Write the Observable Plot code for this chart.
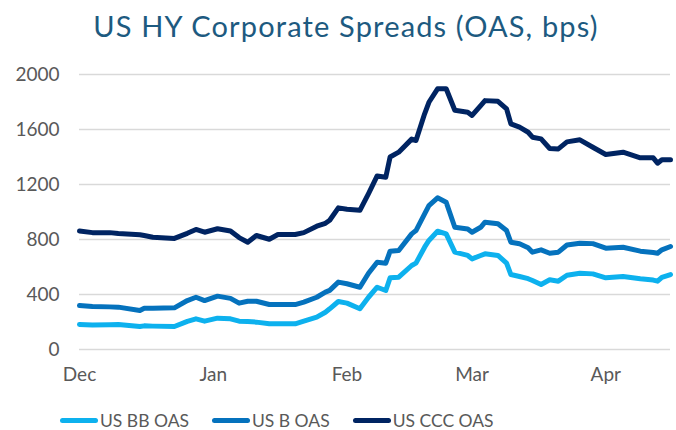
<!DOCTYPE html>
<html><head><meta charset="utf-8">
<script src="https://cdn.jsdelivr.net/npm/d3@7"></script>
<script src="https://cdn.jsdelivr.net/npm/@observablehq/plot@0.6"></script>
<style>
body{margin:0;background:#fff;font-family:Lato,"Open Sans",sans-serif;}
#wrap{position:relative;width:676px;height:430px;overflow:hidden;}
#title{position:absolute;top:8px;left:8px;width:676px;text-align:center;font-size:29px;color:#1d5a80;letter-spacing:1.15px;}
#chart{position:absolute;top:55px;left:0;}
#legend{position:absolute;top:410px;left:60px;display:flex;align-items:center;font-size:17.5px;color:#595959;}
.item{display:flex;align-items:center;margin-right:23px;}
.sw{width:38px;height:5px;border-radius:3px;margin-right:2px;}
</style></head>
<body>
<div id="wrap">
<div id="title">US HY Corporate Spreads (OAS, bps)</div>
<div id="chart"></div>
<div id="legend"></div>
</div>
<script>
const dates = ["2019-12-01","2019-12-04","2019-12-08","2019-12-10","2019-12-15","2019-12-16","2019-12-18","2019-12-23","2019-12-26","2019-12-28","2019-12-30",
"2020-01-02","2020-01-05","2020-01-07","2020-01-09","2020-01-11","2020-01-14","2020-01-16","2020-01-20","2020-01-22","2020-01-25","2020-01-27","2020-01-28","2020-01-30",
"2020-02-01","2020-02-04","2020-02-06","2020-02-08","2020-02-10","2020-02-11","2020-02-13","2020-02-16","2020-02-17","2020-02-19","2020-02-20","2020-02-22","2020-02-24","2020-02-26","2020-02-29",
"2020-03-01","2020-03-03","2020-03-04","2020-03-07","2020-03-09","2020-03-10","2020-03-12","2020-03-14","2020-03-15","2020-03-17","2020-03-19","2020-03-21","2020-03-23","2020-03-26","2020-03-29",
"2020-04-01","2020-04-05","2020-04-09","2020-04-12","2020-04-13","2020-04-14","2020-04-16"];
const ccc = [862,850,850,843,835,829,816,808,845,873,853,
878,862,814,780,829,802,836,836,850,897,918,940,1030,
1020,1012,1134,1262,1253,1400,1435,1530,1520,1714,1798,1896,1896,1740,1726,
1702,1774,1810,1805,1750,1641,1617,1580,1544,1532,1462,1459,1510,1525,1471,
1418,1435,1394,1394,1355,1380,1380];
const b = [320,313,310,308,284,300,300,303,356,380,356,
388,372,337,351,351,327,327,327,344,380,417,430,490,
478,453,555,635,628,715,720,841,865,987,1047,1103,1071,889,877,
853,889,926,914,865,780,769,740,708,725,700,708,760,773,770,
737,744,715,705,700,725,749];
const bb = [182,178,180,182,167,172,170,167,205,223,206,
228,223,206,203,199,187,187,187,206,235,271,296,349,
337,296,380,453,429,521,526,611,628,744,793,860,841,708,684,
659,684,696,684,628,545,531,515,502,473,507,497,540,555,550,
521,531,514,505,497,525,545];
const seriesNames = ["US BB OAS","US B OAS","US CCC OAS"];
const seriesColors = ["#0db1ee","#0572bd","#002462"];
const yTicks = [0,400,800,1200,1600,2000];
const monthTicks = ["2019-12-01","2020-01-01","2020-02-01","2020-03-01","2020-04-01"];
const monthLabels = ["Dec","Jan","Feb","Mar","Apr"];

const parse = d3.utcParse("%Y-%m-%d");
const rows = [];
[bb,b,ccc].forEach((arr,i)=>arr.forEach((v,j)=>rows.push({date:parse(dates[j]),value:v,series:seriesNames[i]})));
const mt = monthTicks.map(parse);

const chart = Plot.plot({
  width:676, height:340,
  marginLeft:79, marginRight:6, marginTop:19, marginBottom:46,
  style:{fontFamily:'Lato,"Open Sans",sans-serif', fontSize:"19px", color:"#595959", background:"transparent"},
  x:{type:"utc"},
  y:{domain:[0,2000]},
  color:{domain:seriesNames, range:seriesColors},
  marks:[
    Plot.gridY(yTicks,{stroke:"#d9d9d9", strokeOpacity:1, strokeWidth:1.5}),
    Plot.axisY(yTicks,{tickSize:0, tickPadding:20, label:null, tickFormat:d3.format("d"), fill:"#595959"}),
    Plot.axisX(mt,{tickSize:0, tickPadding:18, label:null, tickFormat:(d)=>monthLabels[mt.findIndex(m=>+m===+d)], fill:"#595959"}),
    Plot.line(rows,{x:"date", y:"value", z:"series", stroke:"series", strokeWidth:5, strokeLinejoin:"round", strokeLinecap:"round"})
  ]
});
document.getElementById("chart").appendChild(chart);

const leg = document.getElementById("legend");
seriesNames.forEach((n,i)=>{
  const it=document.createElement("div"); it.className="item";
  const sw=document.createElement("div"); sw.className="sw"; sw.style.background=seriesColors[i];
  const t=document.createElement("span"); t.textContent=n;
  it.appendChild(sw); it.appendChild(t); leg.appendChild(it);
});
</script>
</body></html>
